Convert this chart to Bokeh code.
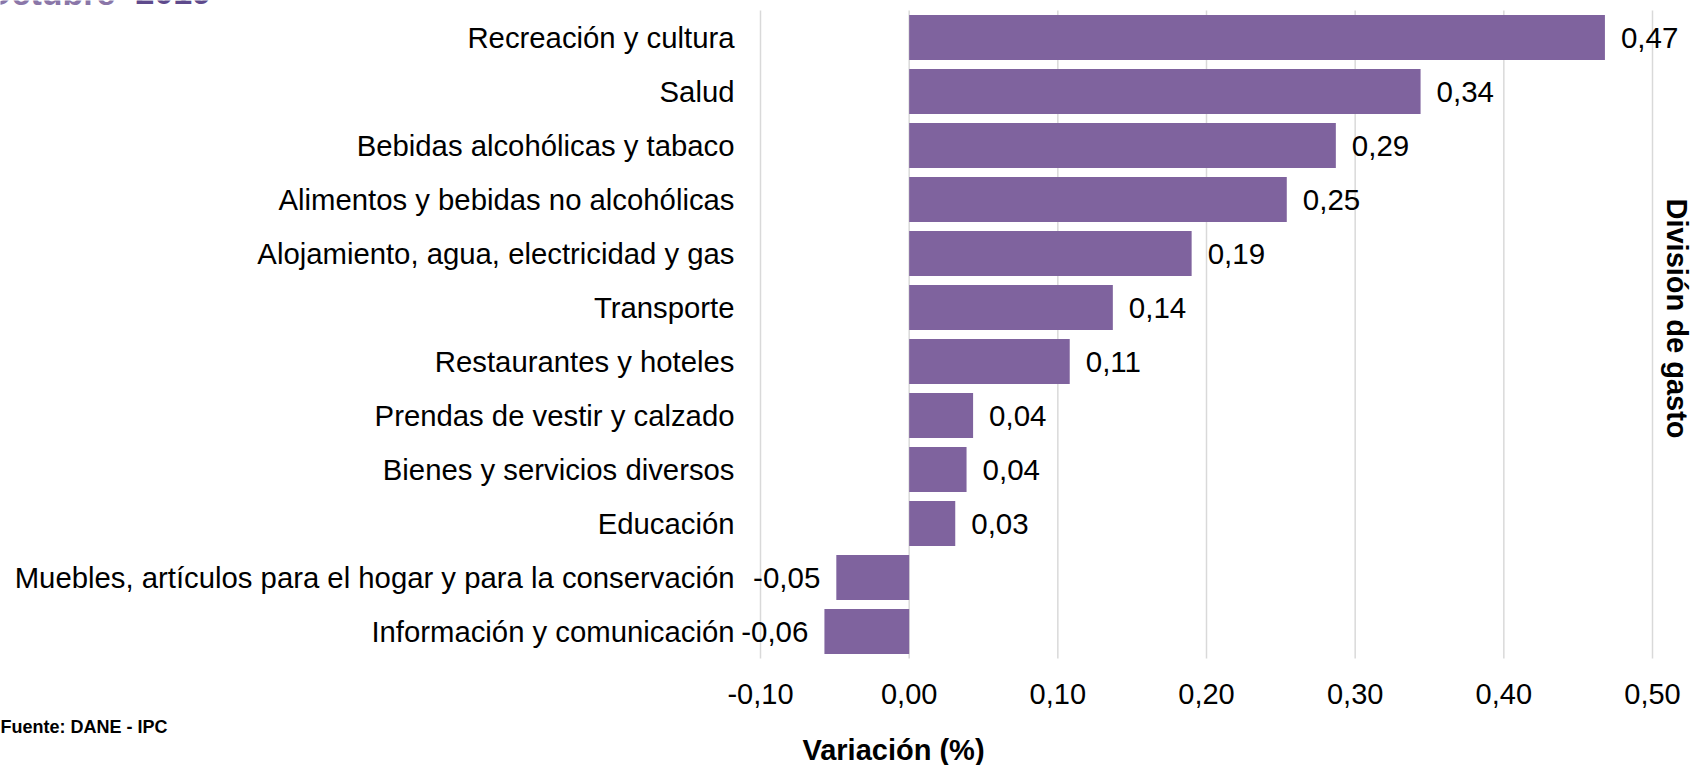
import math
from bokeh.plotting import figure
from bokeh.models import ColumnDataSource, Range1d
from bokeh.core.properties import value
from bokeh.embed import file_html
from bokeh.resources import INLINE

# ---- data (top to bottom) ----
categories = [
    "Recreación y cultura",
    "Salud",
    "Bebidas alcohólicas y tabaco",
    "Alimentos y bebidas no alcohólicas",
    "Alojamiento, agua, electricidad y gas",
    "Transporte",
    "Restaurantes y hoteles",
    "Prendas de vestir y calzado",
    "Bienes y servicios diversos",
    "Educación",
    "Muebles, artículos para el hogar y para la conservación",
    "Información y comunicación",
]
variacion = [0.468, 0.344, 0.287, 0.254, 0.190, 0.137, 0.108, 0.043, 0.0386, 0.031, -0.049, -0.057]
x_ticks = [-0.10, 0.00, 0.10, 0.20, 0.30, 0.40, 0.50]

title_month = "Octubre"
title_year = "2019"
x_title = "Variación (%)"
y_title = "División de gasto"
source_note = "Fuente: DANE - IPC"

# ---- styling / layout ----
BAR = "#7F639E"
GRID = "#D9D9D9"
FONT = value("Liberation Sans")
W, H = 1694, 765
FRAME_L, FRAME_R, FRAME_T, FRAME_B = 760, 1652, 10, 658   # data area in canvas px

n = len(categories)
ppu = (FRAME_R - FRAME_L) / (x_ticks[-1] - x_ticks[0])     # px per unit on x
band = (FRAME_B - FRAME_T) / n                               # px per category
x_start = x_ticks[0] - FRAME_L / ppu
x_end = x_ticks[-1] + (W - FRAME_R) / ppu
y_start = -0.5 - (H - FRAME_B) / band
y_end = n - 0.5 + FRAME_T / band

def X(cx):  # canvas px -> data x
    return x_start + cx / ppu

def Y(cy):  # canvas px -> data y
    return y_end - cy / band

def fmt(v):
    return f"{v:.2f}".replace(".", ",")

ypos = [n - 1 - i for i in range(n)]
labels = [fmt(v) for v in variacion]

bars = ColumnDataSource(dict(y=ypos, val=variacion, cat=categories))
pos = ColumnDataSource(dict(
    x=[v + 16 / ppu for v in variacion if v >= 0],
    y=[y for y, v in zip(ypos, variacion) if v >= 0],
    t=[l for l, v in zip(labels, variacion) if v >= 0]))
neg = ColumnDataSource(dict(
    x=[v - 16 / ppu for v in variacion if v < 0],
    y=[y for y, v in zip(ypos, variacion) if v < 0],
    t=[l for l, v in zip(labels, variacion) if v < 0]))

p = figure(width=W, height=H, output_backend="svg", toolbar_location=None,
           title=None, x_axis_location=None, y_axis_location=None,
           x_range=Range1d(x_start, x_end), y_range=Range1d(y_start, y_end),
           min_border=0)
p.min_border_left = p.min_border_right = p.min_border_top = p.min_border_bottom = 0
p.outline_line_color = None
p.grid.visible = False
p.background_fill_color = "white"
p.border_fill_color = "white"

# vertical gridlines at the x ticks, spanning the category bands
p.segment(x0=x_ticks, x1=x_ticks, y0=[-0.5] * len(x_ticks), y1=[n - 0.5] * len(x_ticks),
          line_color=GRID, line_width=1.5)

# bars
p.hbar(y="y", left=0, right="val", height=0.833, source=bars,
       fill_color=BAR, line_color=None)

# value labels
p.text(x="x", y="y", text="t", source=pos, text_align="left", text_baseline="middle",
       text_font=FONT, text_font_size="29.5px", text_color="#000000")
p.text(x="x", y="y", text="t", source=neg, text_align="right", text_baseline="middle",
       text_font=FONT, text_font_size="29.5px", text_color="#000000")

# category labels (y axis)
p.text(x=[x_ticks[0] - 26 / ppu] * n, y=ypos, text=categories,
       text_align="right", text_baseline="middle",
       text_font=FONT, text_font_size="29.3px", text_color="#000000")

# x tick labels
p.text(x=x_ticks, y=[-0.5 - 35 / band] * len(x_ticks), text=[fmt(t) for t in x_ticks],
       text_align="center", text_baseline="middle",
       text_font=FONT, text_font_size="29px", text_color="#000000")

# axis titles and notes
p.text(x=[X(893)], y=[Y(749)], text=[x_title], text_align="center", text_baseline="middle",
       text_font=FONT, text_font_style="bold", text_font_size="29px", text_color="#000000")
p.text(x=[X(1676)], y=[Y(318)], text=[y_title], angle=-math.pi / 2,
       text_align="center", text_baseline="middle",
       text_font=FONT, text_font_style="bold", text_font_size="29px", text_color="#000000")
p.text(x=[X(0)], y=[Y(726)], text=[source_note], text_align="left", text_baseline="middle",
       text_font=FONT, text_font_style="bold", text_font_size="18px", text_color="#000000")

# chart title (cut off at the top edge, as in the original)
p.text(x=[X(115)], y=[Y(-8)], text=[title_month], text_align="right", text_baseline="alphabetic",
       text_font=FONT, text_font_style="bold", text_font_size="34px", text_color="#8A76A8")
p.text(x=[X(135)], y=[Y(-8)], text=[title_year], text_align="left", text_baseline="alphabetic",
       text_font=FONT, text_font_style="bold", text_font_size="34px", text_color="#5E4A8C")

open("out.html", "w").write(file_html(p, INLINE))
